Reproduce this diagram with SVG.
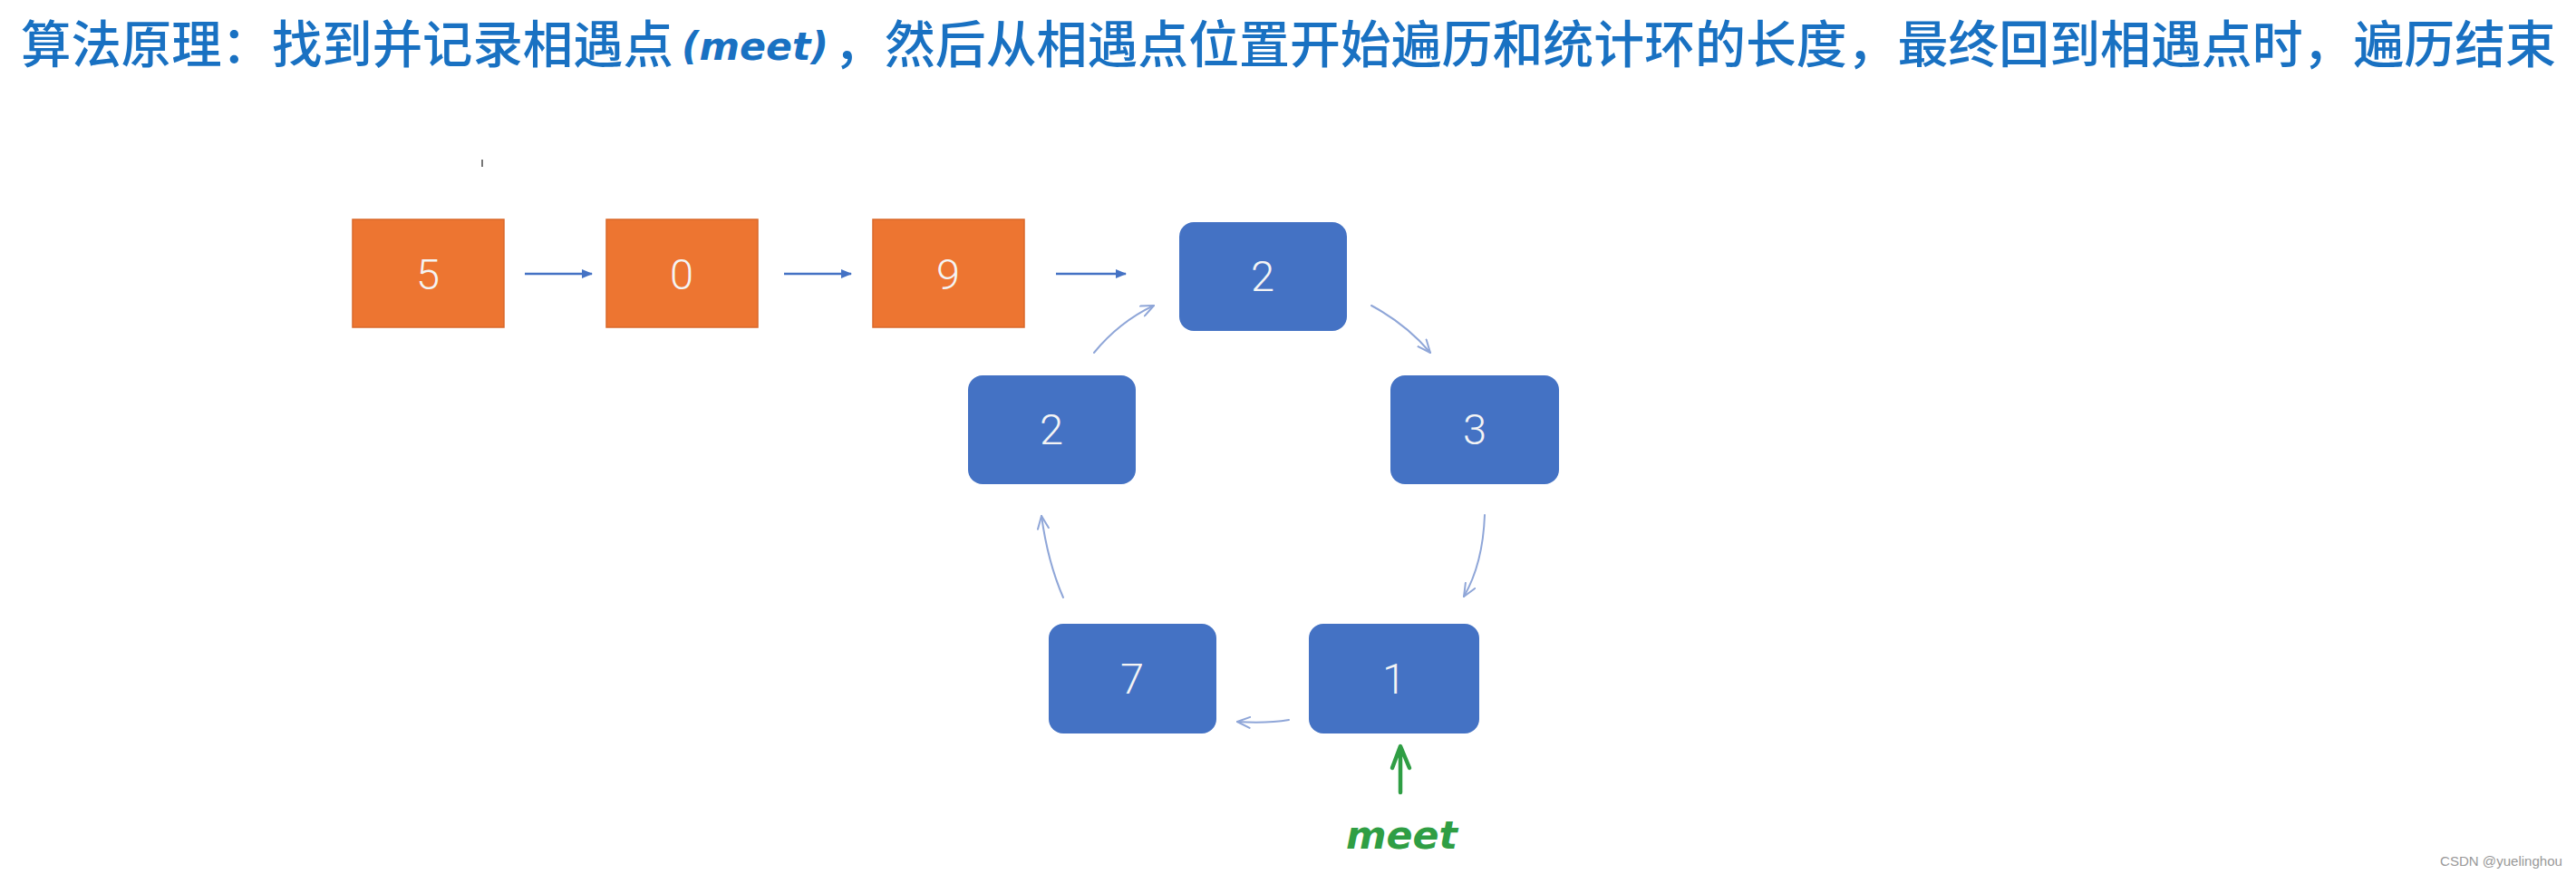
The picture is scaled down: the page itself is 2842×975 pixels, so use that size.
<svg xmlns="http://www.w3.org/2000/svg" width="2842" height="975" viewBox="0 0 2842 975">
<defs>
<style>
.title{font-family:"Noto Sans CJK SC","Noto Sans",sans-serif;font-size:56px;font-weight:500;fill:#1971c2}
.hand{font-family:"DejaVu Sans",sans-serif;font-weight:bold;font-style:oblique}
.orange{fill:#ed7531;stroke:#d9682a;stroke-width:1.5}
.blue{fill:#4472c4}
.num{font-family:Roboto,"Open Sans","Liberation Sans",sans-serif;font-weight:300;font-size:47px;fill:#f4f4f4;text-anchor:middle}
.sarrow{stroke:#4472c4;stroke-width:2.5;fill:none}
.carrow{stroke:#8fa6d8;stroke-width:2;fill:none;stroke-linecap:round}
</style>
<marker id="tri" viewBox="0 0 12 10" refX="11" refY="5" markerWidth="12" markerHeight="10" markerUnits="userSpaceOnUse" orient="auto">
<path d="M0,0 L12,5 L0,10 Z" fill="#4472c4"/>
</marker>
<marker id="vee" viewBox="0 0 16 14" refX="15" refY="7" markerWidth="16" markerHeight="14" markerUnits="userSpaceOnUse" orient="auto">
<path d="M1,1 L15,7 L1,13" fill="none" stroke="#8fa6d8" stroke-width="2" stroke-linecap="round" stroke-linejoin="round"/>
</marker>
</defs>
<rect width="2842" height="975" fill="#ffffff"/>

<g id="title">
<text class="title" y="69"><tspan x="23" textLength="720" lengthAdjust="spacingAndGlyphs">算法原理：找到并记录相遇点</tspan><tspan class="hand" x="752" y="66" font-size="42" textLength="162" lengthAdjust="spacingAndGlyphs">(meet)</tspan><tspan x="920" y="69" textLength="1900" lengthAdjust="spacingAndGlyphs">，然后从相遇点位置开始遍历和统计环的长度，最终回到相遇点时，遍历结束</tspan></text>
</g>

<line x1="532" y1="176" x2="532" y2="184" stroke="#777" stroke-width="2"/>

<g id="node-5"><rect class="orange" x="389" y="242" width="167" height="119"/><text class="num" x="472" y="319">5</text></g>
<g id="node-0"><rect class="orange" x="669" y="242" width="167" height="119"/><text class="num" x="752" y="319">0</text></g>
<g id="node-9"><rect class="orange" x="963" y="242" width="167" height="119"/><text class="num" x="1046" y="319">9</text></g>

<g id="node-2-top"><rect class="blue" x="1301" y="245" width="185" height="120" rx="16"/><text class="num" x="1393" y="321">2</text></g>
<g id="node-2-left"><rect class="blue" x="1068" y="414" width="185" height="120" rx="16"/><text class="num" x="1160" y="490">2</text></g>
<g id="node-3"><rect class="blue" x="1534" y="414" width="186" height="120" rx="16"/><text class="num" x="1627" y="490">3</text></g>
<g id="node-7"><rect class="blue" x="1157" y="688" width="185" height="121" rx="16"/><text class="num" x="1249" y="765">7</text></g>
<g id="node-1"><rect class="blue" x="1444" y="688" width="188" height="121" rx="16"/><text class="num" x="1538" y="765">1</text></g>

<g id="connectors">
<line class="sarrow" x1="579" y1="302" x2="653" y2="302" marker-end="url(#tri)"/>
<line class="sarrow" x1="865" y1="302" x2="939" y2="302" marker-end="url(#tri)"/>
<line class="sarrow" x1="1165" y1="302" x2="1242" y2="302" marker-end="url(#tri)"/>
<path class="carrow" d="M1207,389 Q1235,355 1273,337" marker-end="url(#vee)"/>
<path class="carrow" d="M1513,337 Q1552,358 1578,389" marker-end="url(#vee)"/>
<path class="carrow" d="M1638,568 Q1636,622 1615,658" marker-end="url(#vee)"/>
<path class="carrow" d="M1422,794 Q1398,798 1365,796" marker-end="url(#vee)"/>
<path class="carrow" d="M1173,659 Q1156,620 1149,569" marker-end="url(#vee)"/>
</g>

<g id="meet-annotation">
<path d="M1545,874 L1545,825 M1536,847 L1545,823 L1555,847" fill="none" stroke="#2f9e44" stroke-width="4.5" stroke-linecap="round" stroke-linejoin="round"/>
<text class="hand" x="1485" y="936" font-size="42" fill="#2f9e44" textLength="123" lengthAdjust="spacingAndGlyphs">meet</text>
</g>

<text x="2692" y="955" font-family="Liberation Sans, sans-serif" font-size="15" fill="#999999" textLength="135" lengthAdjust="spacingAndGlyphs">CSDN @yuelinghou</text>
</svg>
